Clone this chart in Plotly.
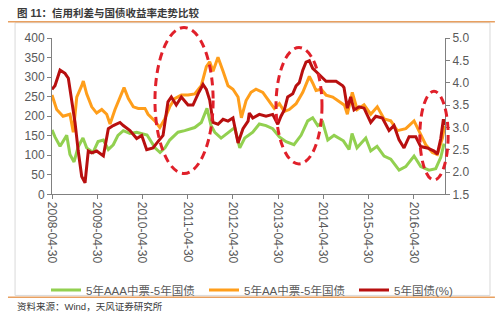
import plotly.graph_objects as go

# 5Y AAA MTN minus 5Y government bond spread (bp)
aaa_dates = ["2008-04-30", "2008-05-24", "2008-07-04", "2008-08-27", "2008-09-22", "2008-10-25",
             "2008-11-28", "2009-01-05", "2009-02-04", "2009-03-27", "2009-05-07", "2009-06-19",
             "2009-07-29", "2009-09-07", "2009-10-15", "2009-11-27", "2010-01-20", "2010-03-15",
             "2010-06-07", "2010-08-10", "2010-09-20", "2010-10-30", "2010-12-07", "2011-02-12",
             "2011-04-07", "2011-06-27", "2011-08-19", "2011-10-04", "2011-11-06", "2011-12-06",
             "2012-01-26", "2012-03-22", "2012-05-15", "2012-06-25", "2012-08-04", "2012-10-08",
             "2012-11-30", "2013-01-23", "2013-03-18", "2013-05-11", "2013-07-04", "2013-09-06",
             "2013-11-02", "2013-12-26", "2014-02-04", "2014-03-17", "2014-04-26", "2014-06-06",
             "2014-07-27", "2014-10-10", "2014-11-25", "2014-12-19", "2015-01-28", "2015-04-09",
             "2015-05-19", "2015-07-09", "2015-09-04", "2015-10-28", "2016-01-03", "2016-02-26",
             "2016-05-03", "2016-06-26", "2016-09-01", "2016-10-25", "2016-12-05", "2016-12-31"]
aaa_spread = [165, 147, 123, 151, 102, 83,
              122, 144, 119, 107, 135, 139,
              115, 127, 151, 163, 156, 159,
              152, 119, 107, 119, 139, 159,
              163, 171, 184, 220, 176, 159,
              144, 159, 171, 119, 144, 159,
              180, 176, 168, 147, 135, 127,
              151, 188, 196, 176, 184, 139,
              151, 137, 115, 156, 119, 144,
              111, 123, 98, 90, 62, 71,
              98, 71, 62, 66, 95, 130]

# 5Y AA MTN minus 5Y government bond spread (bp)
aa_dates = ["2008-04-30", "2008-06-07", "2008-07-28", "2008-09-22", "2008-10-19", "2008-11-16",
            "2008-12-26", "2009-01-08", "2009-02-04", "2009-03-17", "2009-04-26", "2009-06-06",
            "2009-07-16", "2009-08-12", "2009-09-21", "2009-10-31", "2009-12-03", "2010-01-07",
            "2010-02-16", "2010-03-28", "2010-05-21", "2010-06-15", "2010-08-08", "2010-09-18",
            "2010-10-28", "2010-12-07", "2011-01-16", "2011-03-11", "2011-05-04", "2011-06-27",
            "2011-08-19", "2011-09-29", "2011-10-26", "2011-11-22", "2012-01-01", "2012-02-11",
            "2012-03-22", "2012-05-01", "2012-06-11", "2012-07-08", "2012-08-15", "2012-09-24",
            "2012-11-03", "2012-12-28", "2013-02-19", "2013-03-31", "2013-05-11", "2013-06-20",
            "2013-07-30", "2013-09-23", "2013-11-16", "2014-01-08", "2014-02-04", "2014-03-03",
            "2014-04-13", "2014-05-23", "2014-07-16", "2014-09-07", "2014-10-19", "2014-11-11",
            "2014-12-21", "2015-01-30", "2015-03-26", "2015-05-19", "2015-07-11", "2015-09-04",
            "2015-10-28", "2015-12-20", "2016-02-26", "2016-05-03", "2016-06-12", "2016-08-05",
            "2016-09-28", "2016-11-07", "2016-12-18", "2017-01-06"]
aa_spread = [254, 217, 200, 205, 159, 249,
             278, 290, 257, 224, 208, 217,
             205, 180, 217, 249, 273, 245,
             224, 220, 220, 205, 188, 171,
             193, 224, 245, 254, 254, 257,
             278, 327, 339, 315, 351, 315,
             278, 269, 249, 196, 240, 261,
             269, 261, 237, 220, 232, 212,
             217, 232, 261, 302, 285, 266,
             269, 254, 249, 237, 228, 205,
             261, 217, 229, 205, 224, 193,
             188, 163, 168, 188, 163, 127,
             107, 102, 144, 176]

# 5Y government bond yield (%)
gov_dates = ["2008-04-30", "2008-05-24", "2008-07-04", "2008-08-13", "2008-09-09", "2008-10-06",
             "2008-11-02", "2008-11-28", "2008-12-26", "2009-01-22", "2009-02-17", "2009-03-17",
             "2009-04-26", "2009-06-19", "2009-07-29", "2009-09-07", "2009-10-31", "2009-11-27",
             "2010-01-20", "2010-03-15", "2010-04-25", "2010-06-04", "2010-07-25", "2010-09-03",
             "2010-10-14", "2010-11-23", "2010-12-20", "2011-01-29", "2011-03-11", "2011-05-04",
             "2011-06-13", "2011-07-24", "2011-09-02", "2011-09-29", "2011-10-26", "2011-11-22",
             "2012-01-01", "2012-02-11", "2012-03-22", "2012-05-01", "2012-06-11", "2012-07-21",
             "2012-08-31", "2012-09-10", "2012-10-08", "2012-11-30", "2013-01-23", "2013-03-18",
             "2013-04-28", "2013-05-24", "2013-06-20", "2013-07-17", "2013-08-27", "2013-09-23",
             "2013-10-19", "2013-11-16", "2013-12-12", "2014-01-08", "2014-02-04", "2014-03-03",
             "2014-04-13", "2014-05-23", "2014-07-02", "2014-08-12", "2014-10-05", "2014-10-15",
             "2014-11-11", "2014-12-08", "2015-01-04", "2015-02-14", "2015-03-26", "2015-05-19",
             "2015-06-29", "2015-08-21", "2015-10-14", "2015-11-23", "2016-01-03", "2016-02-12",
             "2016-03-24", "2016-05-17", "2016-06-26", "2016-08-18", "2016-10-12", "2016-11-07",
             "2016-12-05", "2016-12-26", "2017-01-06"]
gov_yield = [3.85, 3.93, 4.28, 4.21, 4.10, 3.61,
             3.11, 2.47, 1.90, 1.76, 2.47, 2.43,
             2.47, 2.36, 2.97, 3.04, 3.11, 3.04,
             2.93, 2.75, 2.82, 2.50, 2.54, 2.68,
             2.82, 3.57, 3.68, 3.50, 3.68, 3.50,
             3.50, 3.75, 3.96, 3.85, 3.61, 3.11,
             3.07, 3.18, 3.14, 3.21, 2.65, 2.97,
             3.14, 3.32, 3.21, 3.29, 3.25, 3.29,
             3.07, 3.25, 3.39, 3.68, 3.75, 3.93,
             4.00, 4.28, 4.46, 4.49, 4.32, 4.25,
             4.14, 4.03, 4.03, 4.03, 3.93, 3.89,
             3.43, 3.68, 3.39, 3.46, 3.43, 3.11,
             3.25, 3.21, 2.93, 3.04, 2.72, 2.54,
             2.79, 2.79, 2.57, 2.54, 2.47, 2.40,
             2.75, 3.18, 3.05]

tick_dates = ["2008-04-30", "2009-04-30", "2010-04-30", "2011-04-30", "2012-04-30",
              "2013-04-30", "2014-04-30", "2015-04-30", "2016-04-30"]

names = ["5年AAA中票-5年国债", "5年AA中票-5年国债", "5年国债(%)"]
colors = ["#92D050", "#FF9E1B", "#B80F0F"]

FONT = "Liberation Sans, Arial, Noto Sans CJK SC, sans-serif"
TXT = "#595959"

fig = go.Figure()
fig.add_trace(go.Scatter(x=aaa_dates, y=aaa_spread, name=names[0], mode="lines",
                         line=dict(color=colors[0], width=3), legend="legend"))
fig.add_trace(go.Scatter(x=aa_dates, y=aa_spread, name=names[1], mode="lines",
                         line=dict(color=colors[1], width=3), legend="legend2"))
fig.add_trace(go.Scatter(x=gov_dates, y=gov_yield, name=names[2], mode="lines",
                         line=dict(color=colors[2], width=3), yaxis="y2", legend="legend3"))

# dashed highlight ellipses (plot-area fractions)
ellipses = [(0.262, 0.134, 0.410, 1.067),
            (0.570, 0.195, 0.687, 0.939),
            (0.936, 0.092, 1.008, 0.659)]
shapes = []
for x0, y0, x1, y1 in ellipses:
    shapes.append(dict(type="circle", xref="paper", yref="paper", x0=x0, y0=y0, x1=x1, y1=y1,
                       line=dict(color="#E0202A", width=3, dash="8px,5px"), layer="above"))

# outer frame and orange rules
shapes.append(dict(type="rect", xref="paper", yref="paper", x0=-0.094, y0=-0.646, x1=1.1145, y1=1.0976,
                   line=dict(color="#D9D9D9", width=1), layer="below"))
for yy in (1.1037, -0.6585):
    shapes.append(dict(type="line", xref="paper", yref="paper", x0=-0.112, x1=1.127, y0=yy, y1=yy,
                       line=dict(color="#E8A060", width=1.5)))


def legend_box(left_px):
    return dict(orientation="h", xref="container", x=left_px / 500, xanchor="left",
                yref="container", y=1 - 290 / 331, yanchor="middle",
                font=dict(size=11.5, color=TXT), itemwidth=30,
                bgcolor="rgba(0,0,0,0)", borderwidth=0)


fig.update_layout(
    width=500, height=331,
    margin=dict(l=52, r=55, t=38, b=129),
    paper_bgcolor="white", plot_bgcolor="white",
    font=dict(family=FONT, size=12, color=TXT),
    showlegend=True,
    legend=legend_box(46),
    legend2=legend_box(204),
    legend3=legend_box(354),
    xaxis=dict(type="date", range=["2008-04-30", "2017-01-08"],
               tickvals=tick_dates, ticktext=tick_dates, tickangle=90,
               showgrid=False, zeroline=False, showline=True, linecolor="#808080", linewidth=1,
               ticks="outside", ticklen=4, tickcolor="#808080",
               tickfont=dict(size=12, color=TXT)),
    yaxis=dict(range=[0, 400], tickvals=list(range(0, 401, 50)),
               showgrid=False, zeroline=False, showline=True, linecolor="#808080", linewidth=1,
               ticks="outside", ticklen=4, tickcolor="#808080",
               tickfont=dict(size=12, color=TXT)),
    yaxis2=dict(range=[1.5, 5.0], tickvals=[1.5, 2.0, 2.5, 3.0, 3.5, 4.0, 4.5, 5.0],
                tickformat=".1f", overlaying="y", side="right",
                showgrid=False, zeroline=False, showline=True, linecolor="#808080", linewidth=1,
                ticks="outside", ticklen=4, tickcolor="#808080",
                tickfont=dict(size=12, color=TXT)),
    shapes=shapes,
    annotations=[
        dict(text="<b>图 11：信用利差与国债收益率走势比较</b>", xref="paper", yref="paper",
             x=-0.094, y=1.159, xanchor="left", yanchor="middle", showarrow=False,
             font=dict(size=10.5, color="#3A3A3A", family=FONT)),
        dict(text="资料来源：Wind，天风证券研究所", xref="paper", yref="paper",
             x=-0.094, y=-0.72, xanchor="left", yanchor="middle", showarrow=False,
             font=dict(size=9.5, color="#3A3A3A", family=FONT)),
    ],
)

fig.write_html("out.html")
